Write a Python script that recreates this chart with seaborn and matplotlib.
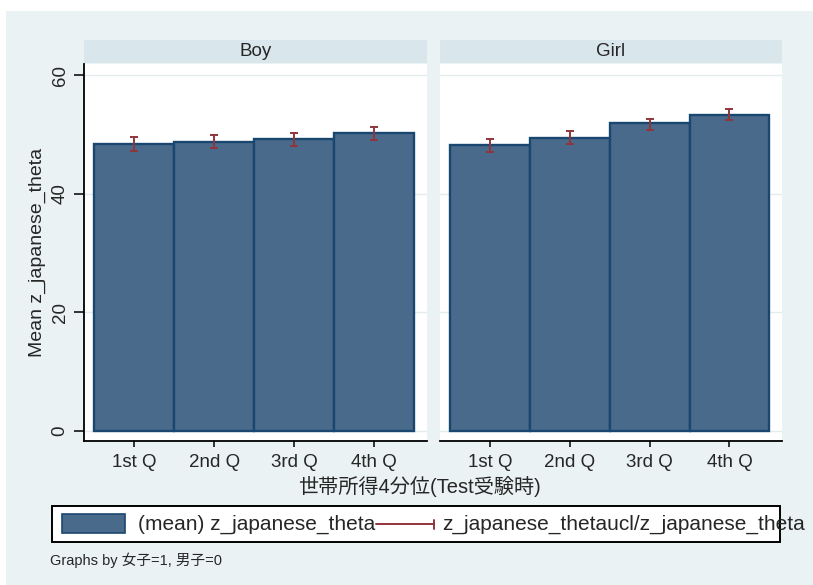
import matplotlib
matplotlib.use("Agg")
import matplotlib.pyplot as plt
from matplotlib.patches import Rectangle
from matplotlib.lines import Line2D
import seaborn as sns
import pandas as pd

# Mean score by household income quartile, split by sex, with 95% CI
quartiles = ["1st Q", "2nd Q", "3rd Q", "4th Q"]
panels = ["Boy", "Girl"]
boy_mean = [48.4, 48.8, 49.2, 50.2]
boy_lower = [47.3, 47.7, 48.1, 49.1]
boy_upper = [49.6, 49.9, 50.2, 51.3]
girl_mean = [48.2, 49.5, 51.9, 53.3]
girl_lower = [47.1, 48.4, 50.8, 52.5]
girl_upper = [49.3, 50.6, 52.6, 54.3]
yticks = [0, 20, 40, 60]

series = {
    "Boy": (boy_mean, boy_lower, boy_upper),
    "Girl": (girl_mean, girl_lower, girl_upper),
}

BG = "#eaf2f3"
STRIP = "#d9e6eb"
BAR = "#4a6a8b"
BAR_EDGE = "#1a476f"
CI = "#90353b"
FONT = ["Liberation Sans", "Noto Sans CJK JP", "DejaVu Sans"]
FS = 13.5

sns.set_theme(style="white")
plt.rcParams["font.family"] = FONT

W, H = 813, 585
fig = plt.figure(figsize=(W / 100, H / 100), dpi=100, facecolor="white")


def fx(px):
    return px / W


def fy(py):
    return 1 - py / H


# outer graph region
fig.patches.append(Rectangle((fx(6), 0), 1 - fx(6), fy(11), transform=fig.transFigure,
                             facecolor=BG, edgecolor="none", zorder=-2))

panel_px = {"Boy": (84, 427), "Girl": (440, 782)}
top_px, bottom_px = 64, 441

for i, name in enumerate(panels):
    x0, x1 = panel_px[name]
    ax = fig.add_axes([fx(x0), fy(bottom_px), fx(x1 - x0), (bottom_px - top_px) / H])
    ax.set_facecolor("white")
    mean, lower, upper = series[name]
    df = pd.DataFrame({"q": quartiles, "mean": mean, "lower": lower, "upper": upper})
    sns.barplot(data=df, x="q", y="mean", ax=ax, color=BAR, saturation=1,
                width=1.0, edgecolor=BAR_EDGE, linewidth=1.7, errorbar=None, zorder=3)
    yerr = [df["mean"] - df["lower"], df["upper"] - df["mean"]]
    ax.errorbar(range(len(quartiles)), df["mean"], yerr=yerr, fmt="none",
                ecolor=CI, elinewidth=1.4, capsize=3, capthick=1.4, zorder=4)
    ax.set_xlim(-0.63, 3.66)
    ax.set_ylim(-1.7, 61.9)
    ax.set_yticks(yticks)
    for t in yticks:
        ax.axhline(t, color="#e3ecef", lw=1.0, zorder=1)
    ax.set_xlabel("")
    ax.set_ylabel("")
    for s in ["top", "right"]:
        ax.spines[s].set_visible(False)
    ax.spines["bottom"].set_color("black")
    ax.spines["bottom"].set_linewidth(1.3)
    ax.tick_params(axis="x", bottom=True, length=4.5, width=1.1, color="black",
                   labelsize=FS, pad=5)
    if i == 0:
        ax.spines["left"].set_color("black")
        ax.spines["left"].set_linewidth(1.3)
        ax.tick_params(axis="y", left=True, length=7, width=1.1, color="black",
                       labelsize=FS, pad=4)
        for lab in ax.get_yticklabels():
            lab.set_rotation(90)
            lab.set_va("center")
    else:
        ax.spines["left"].set_visible(False)
        ax.tick_params(axis="y", left=False, labelleft=False)

    # facet header strip
    fig.patches.append(Rectangle((fx(x0), fy(63)), fx(x1 - x0), (63 - 40) / H,
                                 transform=fig.transFigure, facecolor=STRIP,
                                 edgecolor="none", zorder=1))
    fig.text(fx((x0 + x1) / 2), fy(51), name, ha="center", va="center", fontsize=FS)

fig.text(fx(37), fy(252), "Mean z_japanese_theta", rotation=90, ha="center", va="center",
         fontsize=14)

fig.text(fx(419), fy(486), "世帯所得4分位(Test受験時)", ha="center", va="center",
         fontsize=14.5, family=FONT)

# legend
fig.patches.append(Rectangle((fx(52), fy(542)), fx(780 - 52), (542 - 506) / H,
                             transform=fig.transFigure, facecolor="white",
                             edgecolor="black", linewidth=1.4, zorder=2))
fig.patches.append(Rectangle((fx(62), fy(533)), fx(125 - 62), (533 - 514) / H,
                             transform=fig.transFigure, facecolor=BAR,
                             edgecolor=BAR_EDGE, linewidth=1.2, zorder=3))
fig.text(fx(138), fy(524), "(mean) z_japanese_theta", ha="left", va="center",
         fontsize=15, zorder=4)
fig.lines.append(Line2D([fx(376), fx(434)], [fy(524), fy(524)], transform=fig.transFigure,
                        color=CI, lw=1.4, zorder=3))
fig.lines.append(Line2D([fx(434), fx(434)], [fy(519.5), fy(528.5)], transform=fig.transFigure,
                        color=CI, lw=1.4, zorder=3))
fig.text(fx(442), fy(524), "z_japanese_thetaucl/z_japanese_theta", ha="left", va="center",
         fontsize=15, zorder=4)

fig.text(fx(50), fy(560), "Graphs by 女子=1, 男子=0", ha="left", va="center",
         fontsize=10.5, family=FONT)

fig.savefig("out.png", dpi=100, facecolor="white")
